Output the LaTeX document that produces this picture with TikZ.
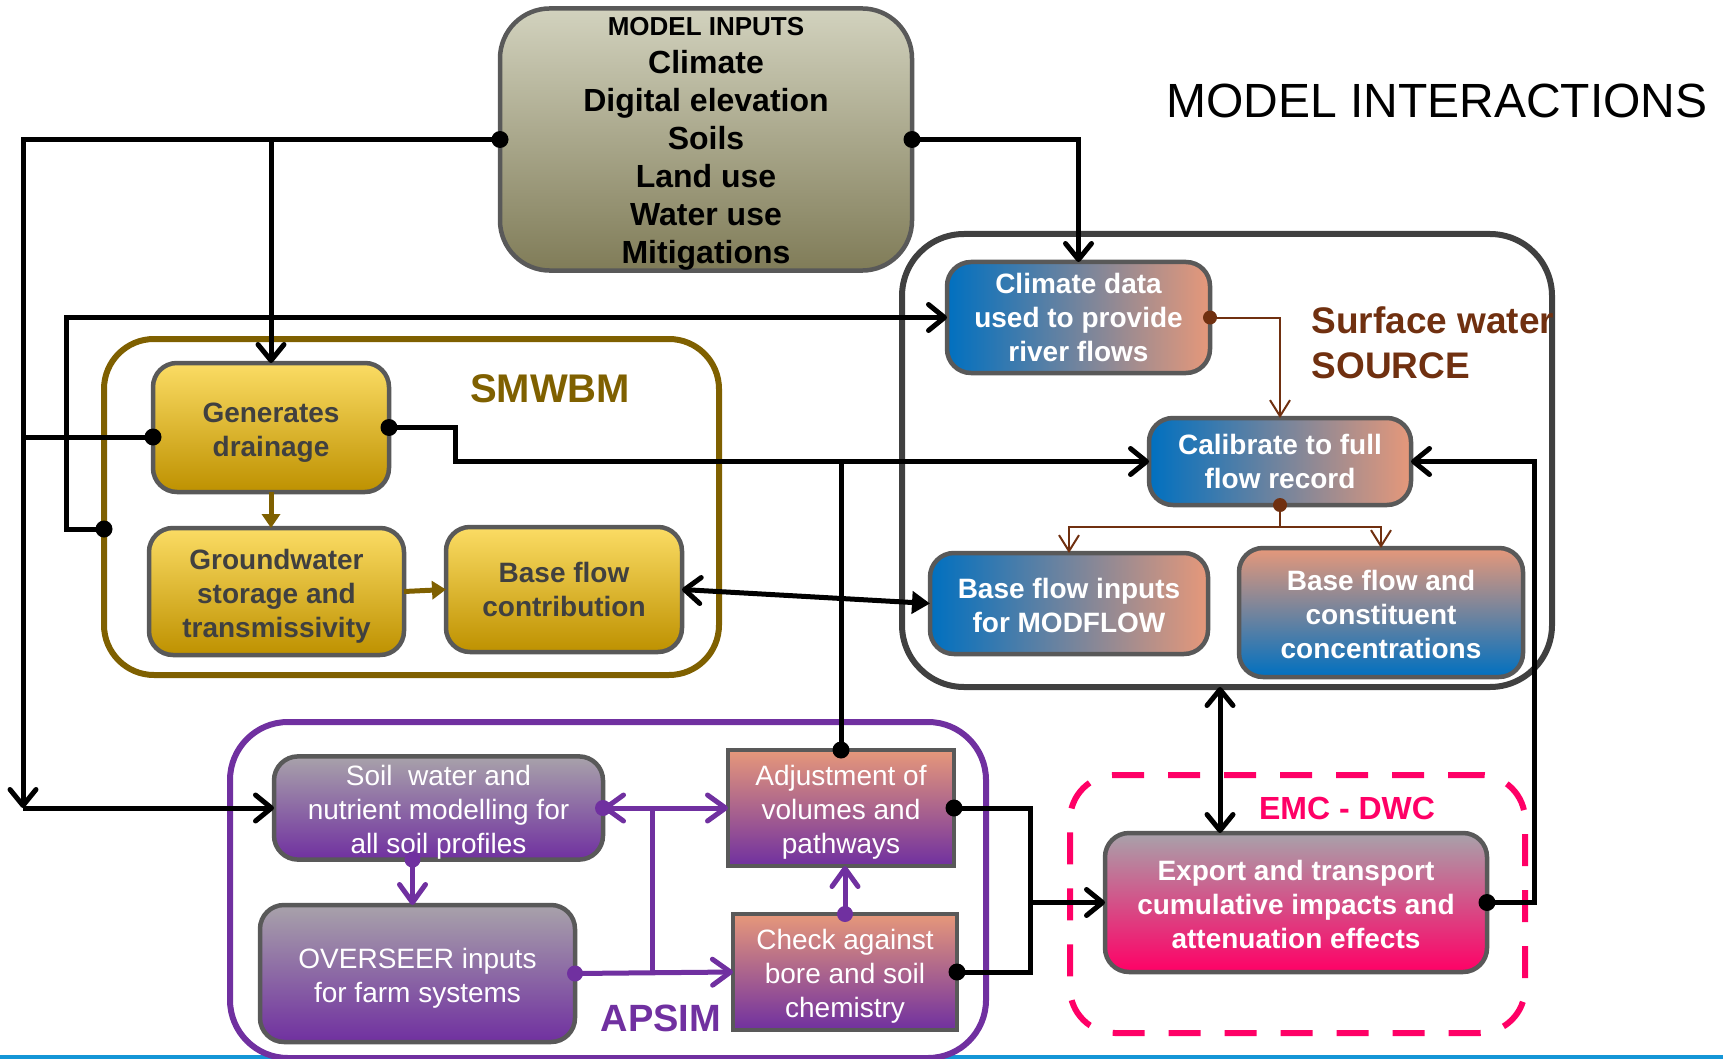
\documentclass[tikz,border=0pt]{standalone}
\usepackage{fontspec}
\setmainfont{Liberation Sans}
\usetikzlibrary{arrows.meta}
\definecolor{boxgray}{RGB}{89,89,89}
\definecolor{srcgray}{RGB}{64,64,64}
\definecolor{inputtop}{RGB}{210,210,190}
\definecolor{inputbot}{RGB}{128,124,88}
\definecolor{yeltop}{RGB}{251,220,100}
\definecolor{yelbot}{RGB}{190,145,0}
\definecolor{wblue}{RGB}{0,112,192}
\definecolor{salmon}{RGB}{230,152,122}
\definecolor{apsimpurple}{RGB}{112,48,160}
\definecolor{lilacgray}{RGB}{168,162,170}
\definecolor{emcpink}{RGB}{255,0,102}
\definecolor{olivebr}{RGB}{127,96,0}
\definecolor{srcbrown}{RGB}{112,48,16}
\definecolor{darktext}{RGB}{64,64,64}
\definecolor{barblue}{RGB}{20,150,215}
\newcommand{\tstrut}[1][1.05em]{\rule{0pt}{#1}}
\begin{document}
\begin{tikzpicture}[x=1pt,y=-1pt,
    box/.style={draw=boxgray,line width=4.5pt,rounded corners=24pt,inner sep=0pt,outer sep=0pt,
      align=center,text=white,font=\fontsize{28}{34}\selectfont\bfseries},
    ybox/.style={box,top color=yeltop,bottom color=yelbot,text=darktext},
    hbox/.style={box,left color=wblue,right color=salmon},
    pbox/.style={box,top color=lilacgray,bottom color=apsimpurple,font=\fontsize{28}{34}\selectfont},
    sbox/.style={box,rounded corners=0pt,top color=salmon,bottom color=apsimpurple,font=\fontsize{28}{34}\selectfont},
    grp/.style={line width=6pt,inner sep=0pt,outer sep=0pt},
    conn/.style={line width=5pt,black,>={Straight Barb[length=16pt,width=26pt,round]}},
    brn/.style={line width=2pt,srcbrown,>={Straight Barb[length=16pt,width=20pt]}},
    olv/.style={line width=5pt,olivebr,>={Triangle[length=14pt,width=18pt]}},
    prp/.style={line width=5pt,apsimpurple,>={Straight Barb[length=18pt,width=26pt,round]}}]
\useasboundingbox (0,0) rectangle (1723,1059);
\fill[barblue] (0,1055) rectangle (1723,1059);

\node[font=\fontsize{48}{56}\selectfont] (title) at (1437,101) {MODEL INTERACTIONS};

\node[grp,draw=olivebr,rounded corners=50pt,minimum width=615pt,minimum height=336pt] (smwbm) at (411.5,507) {};
\node[grp,draw=srcgray,rounded corners=62pt,minimum width=650pt,minimum height=453pt] (source) at (1227,460.5) {};
\node[grp,draw=apsimpurple,rounded corners=58pt,minimum width=756pt,minimum height=336pt] (apsim) at (608,890) {};
\node[grp,draw=emcpink,dash pattern=on 32pt off 24pt,rounded corners=45pt,minimum width=455pt,minimum height=258pt] (emc) at (1297.5,904) {};

\node[text=olivebr,font=\fontsize{40}{46}\selectfont\bfseries] (smwbmlbl) at (550,389) {SMWBM};
\node[text=srcbrown,anchor=west,align=left,font=\fontsize{37}{45}\selectfont\bfseries] (srclbl) at (1308,343) {Surface water\\SOURCE};
\node[text=apsimpurple,font=\fontsize{38}{44}\selectfont\bfseries] (apsimlbl) at (661,1018) {APSIM};
\node[text=emcpink,font=\fontsize{32}{38}\selectfont\bfseries] (emclbl) at (1347,808) {EMC - DWC};

\node[box,rounded corners=50pt,top color=inputtop,bottom color=inputbot,text=black,
      font=\fontsize{32}{38}\selectfont\bfseries,minimum width=412pt,minimum height=261pt] (inputs) at (706,139.5)
  {{\fontsize{26}{38}\selectfont\tstrut MODEL INPUTS}\\Climate\\Digital elevation\\Soils\\Land use\\Water use\\Mitigations};

\node[ybox,minimum width=236pt,minimum height=129pt] (gen) at (271,427.5) {\tstrut Generates\\drainage};
\node[ybox,minimum width=255pt,minimum height=127pt] (gw) at (276.5,591.5) {\tstrut Groundwater\\storage and\\transmissivity};
\node[ybox,minimum width=236pt,minimum height=125pt] (bfc) at (564,589.5) {Base flow\\contribution};

\node[hbox,minimum width=263pt,minimum height=111pt] (clim) at (1078.5,317.5) {Climate data\\used to provide\\river flows};
\node[hbox,minimum width=262pt,minimum height=87pt] (calib) at (1280,461.5) {Calibrate to full\\flow record};
\node[hbox,minimum width=278pt,minimum height=101pt] (bfin) at (1069,603.5) {\tstrut[0.88em]Base flow inputs\\for MODFLOW};
\node[box,top color=salmon,bottom color=wblue,minimum width=284pt,minimum height=129pt] (bfcon) at (1381,612.5) {\tstrut[0.88em]Base flow and\\constituent\\concentrations};

\node[pbox,minimum width=329pt,minimum height=98pt] (soil) at (438.5,808) {\tstrut Soil\ \ water and\\nutrient modelling for\\all soil profiles};
\node[pbox,minimum width=315pt,minimum height=137pt] (over) at (417.5,973.5) {\tstrut OVERSEER inputs\\for farm systems};
\node[sbox,minimum width=226pt,minimum height=116pt] (adj) at (841,808) {\tstrut Adjustment of\\volumes and\\pathways};
\node[sbox,minimum width=224pt,minimum height=116pt] (check) at (845,972) {\tstrut Check against\\bore and soil\\chemistry};

\node[box,top color=lilacgray,bottom color=emcpink,minimum width=382pt,minimum height=139pt] (exp) at (1296,902.5) {\tstrut[0.88em]Export and transport\\cumulative impacts and\\attenuation effects};

\coordinate (lcorner) at (23,808);
\coordinate (sbus) at (66,317.5);
\coordinate (evert) at (1220,0);
\coordinate (jn) at (1030,902.5);
\coordinate (pj) at (652,808);
\coordinate (gdot) at ([yshift=-9.5pt]gen.west);
\coordinate (sdot) at ([yshift=-22pt]smwbm.west);
\coordinate (sdown) at ([xshift=-26pt]soil.south);

\draw[conn,->] (inputs.west) -| (lcorner);
\draw[conn,->] (lcorner) -- (soil.west);
\draw[conn,->] (gen.north |- inputs.west) -- (gen.north);
\draw[conn] (gdot) -- (gdot -| lcorner);
\draw[conn,->] (sdot) -| (sbus) -- (clim.west);
\draw[conn,->] (inputs.east) -| (clim.north);
\draw[conn,->] (gen.east) -- ++(66,0) |- (calib.west);
\draw[conn] (adj.north) -- (adj.north |- calib.west);
\draw[conn,{Straight Barb[length=16pt,width=26pt,round]}-{Triangle[length=18pt,width=22pt]}] (bfc.east) -- (bfin.west);
\draw[conn,<->] (source.south -| evert) -- (exp.north -| evert);
\draw[conn] (adj.east) -| (jn) |- (check.east);
\draw[conn,->] (jn) -- (exp.west);
\draw[conn,->] (exp.east) -- ++(47,0) |- (calib.east);

\draw[brn,->] (clim.east) -| (calib.north);
\draw[brn,->] (calib.south) -- ++(0,22) -| (bfin.north);
\draw[brn,->] (calib.south) -- ++(0,22) -| (bfcon.north);

\draw[olv,->] (gen.south) -- (gen.south |- gw.north);
\draw[olv,->] (gw.east) -- (bfc.west);

\draw[prp,->] (sdown) -- (sdown |- over.north);
\draw[prp,->] (over.east) -- (check.west);
\draw[prp,<->] (soil.east) -- (adj.west);
\draw[prp] (pj) -- (pj |- over.east);
\draw[prp,->] (check.north) -- (check.north |- adj.south);

\foreach \p in {inputs.west,inputs.east,gdot,gen.east,sdot,adj.north,adj.east,check.east,exp.east}
  \fill (\p) circle (8.5pt);
\foreach \p in {clim.east,calib.south}
  \fill[srcbrown] (\p) circle (7pt);
\foreach \p in {soil.east,sdown,over.east,check.north}
  \fill[apsimpurple] (\p) circle (8pt);
\end{tikzpicture}
\end{document}
